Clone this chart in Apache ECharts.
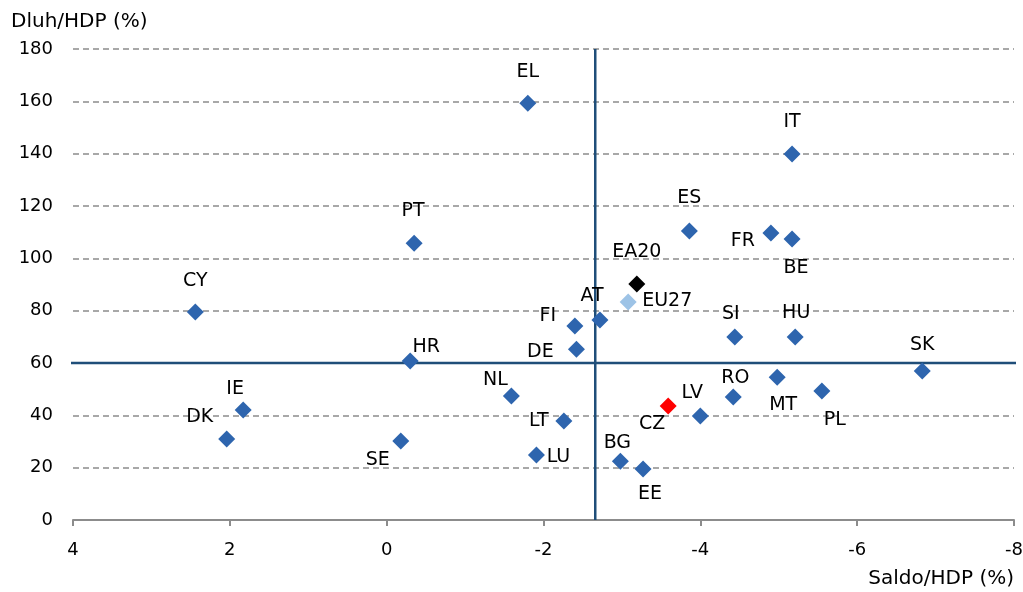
<!DOCTYPE html>
<html><head><meta charset="utf-8">
<script src="https://cdn.jsdelivr.net/npm/echarts@6/dist/echarts.min.js"></script>
<style>html,body{margin:0;padding:0;background:#fff}#c{width:1023px;height:592px}</style>
</head><body><div id="c"></div>
<script>
var countries = ['EL','IT','ES','FR','BE','PT','CY','AT','FI','SI','HU','DE','HR','SK','MT','PL','NL','RO','IE','LV','LT','DK','SE','LU','BG','EE'];
var saldo =     [-1.80,-5.17,-3.86,-4.90,-5.17,-0.35,2.44,-2.72,-2.40,-4.44,-5.21,-2.42,-0.30,-6.83,-4.98,-5.55,-1.59,-4.42,1.83,-4.00,-2.26,2.04,-0.18,-1.91,-2.98,-3.27];
var dluh =      [159.3,139.9,110.4,109.7,107.4,105.8,79.5,76.4,74.1,69.9,69.9,65.3,60.8,56.9,54.6,49.3,47.4,47.0,42.0,39.7,37.8,31.0,30.2,24.8,22.5,19.5];
var special = ['EA20','EU27','CZ'];
var specialSaldo = [-3.19,-3.08,-3.59];
var specialDluh = [90.2,83.3,43.6];
var refSaldo = -2.66;
var refDluh = 60;
var xName = 'Saldo/HDP (%)';
var yName = 'Dluh/HDP (%)';

var labelOffsets = {
  EL:[0,-31], IT:[0,-32], ES:[0,-33], FR:[-28,8], BE:[4,29], PT:[-1,-32],
  EA20:[0,-32], EU27:[39,-1], CY:[0,-31], AT:[-8,-24], FI:[-27,-10], SI:[-4,-23],
  HU:[1,-24], DE:[-36,3], HR:[16,-14], SK:[0,-26], MT:[6,28], PL:[13,29],
  NL:[-16,-16], RO:[2,-19], CZ:[-16,18], IE:[-8,-21], LV:[-8,-23], LT:[-25,0],
  DK:[-27,-22], SE:[-23,19], LU:[22,2], BG:[-3,-18], EE:[7,25]
};
var specialColors = {EA20:'#000000', EU27:'#9dc3e6', CZ:'#ff0000'};
var FONT = 'DejaVu Sans';

function item(name, x, y, color) {
  return {
    name: name, value: [x, y],
    itemStyle: {color: color, opacity: 1},
    label: {show: true, position: 'inside', offset: labelOffsets[name], formatter: name,
            color: '#000', opacity: 1, fontFamily: FONT, fontSize: 19}
  };
}
var mainData = countries.map(function(c, i){ return item(c, saldo[i], dluh[i], '#2e65ae'); });
var specData = special.map(function(c, i){ return item(c, specialSaldo[i], specialDluh[i], specialColors[c]); });

var chart = echarts.init(document.getElementById('c'));
chart.setOption({
  animation: false,
  title: [
    {text: yName, left: 11, top: 12, padding: 0,
     textStyle: {fontFamily: FONT, fontSize: 20, fontWeight: 'normal', color: '#000'}},
    {text: xName, right: 9, top: 569, padding: 0,
     textStyle: {fontFamily: FONT, fontSize: 20, fontWeight: 'normal', color: '#000'}}
  ],
  grid: {left: 73, right: 9, top: 49, bottom: 72, containLabel: false, outerBoundsMode: 'none'},
  xAxis: {
    type: 'value', min: -8, max: 4, interval: 2, inverse: true,
    axisLine: {show: true, onZero: false, lineStyle: {color: '#8c8c8c', width: 2}},
    axisTick: {show: true, length: 6, lineStyle: {color: '#8c8c8c', width: 2}},
    axisLabel: {fontFamily: FONT, fontSize: 18, color: '#000', margin: 21},
    splitLine: {show: false}
  },
  yAxis: {
    type: 'value', min: 0, max: 180, interval: 20,
    axisLine: {show: false}, axisTick: {show: false},
    axisLabel: {fontFamily: FONT, fontSize: 18, color: '#000', margin: 20},
    splitLine: {show: true, lineStyle: {color: '#8c8c8c', type: [6, 4], width: 1.5}}
  },
  series: [
    {type: 'line', data: [[4.32, refDluh], [-8.05, refDluh]], symbol: 'none', clip: false,
     lineStyle: {color: '#1f4e79', width: 2.5}, silent: true, z: 1},
    {type: 'line', data: [[refSaldo, 0], [refSaldo, 180]], symbol: 'none', clip: false,
     lineStyle: {color: '#1f4e79', width: 2.5}, silent: true, z: 1},
    {type: 'scatter', symbol: 'diamond', symbolSize: 17, data: mainData, z: 3},
    {type: 'scatter', symbol: 'diamond', symbolSize: 17, data: specData, z: 3}
  ]
});
</script></body></html>
